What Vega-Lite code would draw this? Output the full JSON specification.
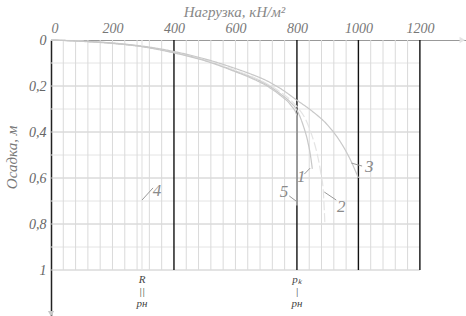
{
  "$schema": "https://vega.github.io/schema/vega-lite/v6.json",
  "width": 415,
  "height": 276,
  "autosize": {"type": "none"},
  "padding": {"left": 51, "top": 40, "right": 0, "bottom": 0},
  "background": "white",
  "config": {"view": {"stroke": null}, "font": "Liberation Serif"},
  "datasets": {
    "vgrid": [{"load":40},{"load":80},{"load":120},{"load":160},{"load":200},{"load":240},{"load":280},{"load":320},{"load":360},{"load":440},{"load":480},{"load":520},{"load":560},{"load":600},{"load":640},{"load":680},{"load":720},{"load":760},{"load":840},{"load":880},{"load":920},{"load":960},{"load":1040},{"load":1080},{"load":1120},{"load":1160}],
    "hgrid": [{"s":0.1,"kind":"minor"},{"s":0.2,"kind":"major"},{"s":0.3,"kind":"minor"},{"s":0.4,"kind":"major"},{"s":0.5,"kind":"minor"},{"s":0.6,"kind":"major"},{"s":0.7,"kind":"minor"},{"s":0.8,"kind":"major"},{"s":0.9,"kind":"minor"},{"s":1.0,"kind":"major"}],
    "bold": [{"load":400},{"load":800},{"load":1000},{"load":1200}],
    "curves": [
      {"curve":"1","i":0,"load":0,"s":0},{"curve":"1","i":1,"load":100,"s":0.005},{"curve":"1","i":2,"load":200,"s":0.014},{"curve":"1","i":3,"load":300,"s":0.029},{"curve":"1","i":4,"load":400,"s":0.054},{"curve":"1","i":5,"load":500,"s":0.088},{"curve":"1","i":6,"load":600,"s":0.135},{"curve":"1","i":7,"load":650,"s":0.16},{"curve":"1","i":8,"load":700,"s":0.192},{"curve":"1","i":9,"load":750,"s":0.238},{"curve":"1","i":10,"load":780,"s":0.272},{"curve":"1","i":11,"load":800,"s":0.305},{"curve":"1","i":12,"load":820,"s":0.37},{"curve":"1","i":13,"load":835,"s":0.44},{"curve":"1","i":14,"load":845,"s":0.51},{"curve":"1","i":15,"load":850,"s":0.56},
      {"curve":"2","i":0,"load":0,"s":0},{"curve":"2","i":1,"load":100,"s":0.005},{"curve":"2","i":2,"load":200,"s":0.014},{"curve":"2","i":3,"load":300,"s":0.029},{"curve":"2","i":4,"load":400,"s":0.054},{"curve":"2","i":5,"load":500,"s":0.087},{"curve":"2","i":6,"load":600,"s":0.132},{"curve":"2","i":7,"load":650,"s":0.157},{"curve":"2","i":8,"load":700,"s":0.188},{"curve":"2","i":9,"load":750,"s":0.23},{"curve":"2","i":10,"load":800,"s":0.29},{"curve":"2","i":11,"load":830,"s":0.35},{"curve":"2","i":12,"load":850,"s":0.42},{"curve":"2","i":13,"load":865,"s":0.49},{"curve":"2","i":14,"load":878,"s":0.58},{"curve":"2","i":15,"load":886,"s":0.66},{"curve":"2","i":16,"load":891,"s":0.8},
      {"curve":"3","i":0,"load":0,"s":0},{"curve":"3","i":1,"load":100,"s":0.005},{"curve":"3","i":2,"load":200,"s":0.013},{"curve":"3","i":3,"load":300,"s":0.027},{"curve":"3","i":4,"load":400,"s":0.05},{"curve":"3","i":5,"load":500,"s":0.082},{"curve":"3","i":6,"load":600,"s":0.124},{"curve":"3","i":7,"load":650,"s":0.148},{"curve":"3","i":8,"load":700,"s":0.176},{"curve":"3","i":9,"load":750,"s":0.214},{"curve":"3","i":10,"load":800,"s":0.262},{"curve":"3","i":11,"load":850,"s":0.31},{"curve":"3","i":12,"load":900,"s":0.37},{"curve":"3","i":13,"load":940,"s":0.44},{"curve":"3","i":14,"load":970,"s":0.51},{"curve":"3","i":15,"load":1000,"s":0.6},
      {"curve":"4","i":0,"load":296,"s":0},{"curve":"4","i":1,"load":296,"s":1.0},
      {"curve":"5","i":0,"load":0,"s":0},{"curve":"5","i":1,"load":100,"s":0.006},{"curve":"5","i":2,"load":200,"s":0.015},{"curve":"5","i":3,"load":300,"s":0.03},{"curve":"5","i":4,"load":400,"s":0.056},{"curve":"5","i":5,"load":500,"s":0.09},{"curve":"5","i":6,"load":600,"s":0.138},{"curve":"5","i":7,"load":650,"s":0.165},{"curve":"5","i":8,"load":700,"s":0.198},{"curve":"5","i":9,"load":750,"s":0.245},{"curve":"5","i":10,"load":780,"s":0.283},{"curve":"5","i":11,"load":800,"s":0.33},{"curve":"5","i":12,"load":800,"s":0.72}
    ],
    "labels": [
      {"label":"4","load":345,"s":0.657},
      {"label":"5","load":758,"s":0.66},
      {"label":"1","load":814,"s":0.596},
      {"label":"2","load":944,"s":0.726},
      {"label":"3","load":1035,"s":0.552}
    ],
    "leaders": [
      {"load":332,"s":0.643,"load2":296,"s2":0.696},
      {"load":775,"s":0.678,"load2":797,"s2":0.7},
      {"load":824,"s":0.583,"load2":843,"s2":0.557},
      {"load":928,"s":0.696,"load2":889,"s2":0.661},
      {"load":1012,"s":0.548,"load2":977,"s2":0.535}
    ],
    "notes": [
      {"text":"R\n||\npн","load":296,"s":1.017},
      {"text":"pₖ\n|\npн","load":800,"s":1.017}
    ],
    "arrows": [
      {"dir":"right","load":1338,"s":0},
      {"dir":"down","load":0,"s":1.19}
    ]
  },
  "layer": [
    {
      "data": {"name": "hgrid"},
      "mark": {"type": "rule", "strokeWidth": 1},
      "encoding": {
        "y": {"field": "s", "type": "quantitative",
          "scale": {"domain": [0, 1.2], "reverse": true, "nice": false, "zero": false},
          "axis": {"values": [0, 0.2, 0.4, 0.6, 0.8, 1],
            "labelExpr": "datum.value == 0 ? '0' : datum.value == 1 ? '1' : replace(format(datum.value, '.1f'), '.', ',')",
            "grid": false, "ticks": false, "domainColor": "#222", "domainWidth": 1.5,
            "labelFont": "Liberation Serif", "labelFontStyle": "italic", "labelFontSize": 14, "labelColor": "#666", "labelPadding": 5,
            "title": "Осадка, м", "titleFont": "Liberation Serif", "titleFontStyle": "italic", "titleFontWeight": "normal", "titleFontSize": 15, "titleColor": "#777",
            "titleAngle": -90, "titleX": -40, "titleY": 117, "titleAlign": "center", "titleBaseline": "middle"}},
        "x": {"datum": 0, "type": "quantitative"},
        "x2": {"datum": 1200},
        "color": {"field": "kind", "type": "nominal", "scale": {"domain": ["major", "minor"], "range": ["#c8c8c8", "#e4e4e4"]}, "legend": null}
      }
    },
    {
      "data": {"name": "vgrid"},
      "mark": {"type": "rule", "strokeWidth": 1, "color": "#dadada"},
      "encoding": {
        "x": {"field": "load", "type": "quantitative",
          "scale": {"domain": [0, 1350], "nice": false, "zero": false},
          "axis": {"orient": "top", "values": [0, 200, 400, 600, 800, 1000, 1200], "format": "d",
            "grid": false, "ticks": false, "domainColor": "#999", "domainWidth": 1.2,
            "labelFont": "Liberation Serif", "labelFontStyle": "italic", "labelFontSize": 14, "labelColor": "#777", "labelPadding": 5,
            "labelOverlap": false,
            "title": "Нагрузка, кН/м²", "titleFont": "Liberation Serif", "titleFontStyle": "italic", "titleFontWeight": "normal", "titleFontSize": 15, "titleColor": "#888",
            "titleX": 183, "titleY": -29, "titleAlign": "center", "titleBaseline": "middle"}},
        "y": {"datum": 0, "type": "quantitative"},
        "y2": {"datum": 1}
      }
    },
    {
      "data": {"name": "bold"},
      "mark": {"type": "rule", "strokeWidth": 1.4, "color": "#111"},
      "encoding": {
        "x": {"field": "load", "type": "quantitative"},
        "y": {"datum": 0, "type": "quantitative"},
        "y2": {"datum": 1}
      }
    },
    {
      "data": {"name": "curves"},
      "mark": {"type": "line", "strokeWidth": 1.2, "interpolate": "monotone"},
      "encoding": {
        "x": {"field": "load", "type": "quantitative"},
        "y": {"field": "s", "type": "quantitative"},
        "order": {"field": "i", "type": "quantitative"},
        "detail": {"field": "curve", "type": "nominal"},
        "color": {"field": "curve", "type": "nominal", "scale": {"domain": ["1", "2", "3", "4", "5"], "range": ["#808080", "#8a8a8a", "#a8a8a8", "#9a9a9a", "#707070"]}, "legend": null},
        "strokeDash": {"field": "curve", "type": "nominal", "scale": {"domain": ["1", "2", "3", "4", "5"], "range": [[1, 0], [9, 3], [1, 0], [1, 0], [1, 0]]}, "legend": null}
      }
    },
    {
      "data": {"name": "leaders"},
      "mark": {"type": "rule", "strokeWidth": 1, "color": "#999"},
      "encoding": {
        "x": {"field": "load", "type": "quantitative"},
        "y": {"field": "s", "type": "quantitative"},
        "x2": {"field": "load2"},
        "y2": {"field": "s2"}
      }
    },
    {
      "data": {"name": "labels"},
      "mark": {"type": "text", "font": "Liberation Serif", "fontStyle": "italic", "fontSize": 17, "color": "#8a8a8a", "align": "center", "baseline": "middle"},
      "encoding": {
        "x": {"field": "load", "type": "quantitative"},
        "y": {"field": "s", "type": "quantitative"},
        "text": {"field": "label"}
      }
    },
    {
      "data": {"name": "notes"},
      "mark": {"type": "text", "font": "Liberation Serif", "fontStyle": "italic", "fontSize": 11, "lineHeight": 12, "lineBreak": "\n", "color": "#444", "align": "center", "baseline": "top"},
      "encoding": {
        "x": {"field": "load", "type": "quantitative"},
        "y": {"field": "s", "type": "quantitative"},
        "text": {"field": "text"}
      }
    },
    {
      "data": {"name": "arrows"},
      "mark": {"type": "point", "filled": true, "size": 40, "opacity": 1},
      "encoding": {
        "x": {"field": "load", "type": "quantitative"},
        "y": {"field": "s", "type": "quantitative"},
        "shape": {"field": "dir", "type": "nominal", "scale": {"domain": ["right", "down"], "range": ["triangle-right", "triangle-down"]}, "legend": null},
        "color": {"field": "dir", "type": "nominal", "scale": {"domain": ["right", "down"], "range": ["#999", "#222"]}, "legend": null}
      }
    }
  ]
}
